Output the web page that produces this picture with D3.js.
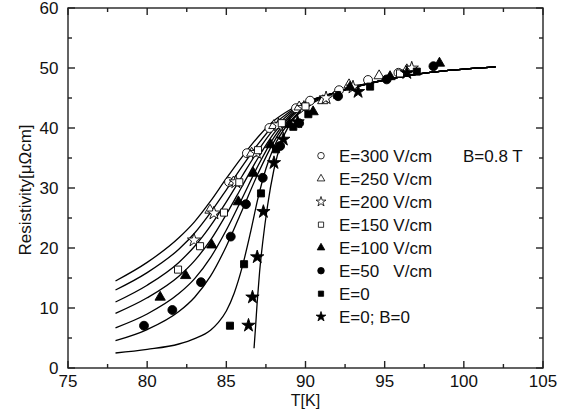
<!DOCTYPE html>
<html><head><meta charset="utf-8">
<script src="https://cdn.jsdelivr.net/npm/d3@7"></script>
<style>body{margin:0;background:#fff}svg{display:block}text{font-family:"Liberation Sans",Arial,sans-serif;fill:#111}</style>
</head><body><svg id="c" width="577" height="416"></svg>
<script>
// ---- data ----
const xTicks = [75, 80, 85, 90, 95, 100, 105];
const yTicks = [0, 10, 20, 30, 40, 50, 60];
const legendLabels = ["E=300 V/cm", "E=250 V/cm", "E=200 V/cm", "E=150 V/cm", "E=100 V/cm", "E=50   V/cm", "E=0", "E=0; B=0"];
const fieldNote = "B=0.8 T";
// fitted curves [T, R]
const fitE300 = [[78,14.5],[80,17.6],[82,21.7],[83,24.4],[84,27.8],[85,31.6],[86,35.2],[87,38.5],[88,41.2],[89,43.0],[90,44.3],[92,46.0],[95,48.0],[98,49.3],[102,50.2]];
const fitE250 = [[78,13.0],[80,15.9],[82,19.8],[83,22.5],[84,25.9],[85,29.7],[86,33.6],[87,37.3],[88,40.5],[89,42.7],[90,44.2],[92,46.0],[95,48.0],[98,49.3],[102,50.2]];
const fitE200 = [[78,11.0],[80,13.8],[82,17.6],[83,20.3],[84,23.7],[85,27.7],[86,32.0],[87,36.2],[88,39.8],[89,42.4],[90,44.1],[92,46.0],[95,48.0],[98,49.3],[102,50.2]];
const fitE150 = [[78,9.1],[80,11.7],[82,15.3],[83,17.9],[84,21.3],[85,25.6],[86,30.3],[87,35.0],[88,39.1],[89,42.1],[90,44.0],[92,46.0],[95,48.0],[98,49.3],[102,50.2]];
const fitE100 = [[78,6.7],[80,9.0],[82,12.4],[83,14.9],[84,18.4],[85,23.0],[86,28.3],[87,33.7],[88,38.4],[89,41.8],[90,43.9],[92,46.0],[95,48.0],[98,49.3],[102,50.2]];
const fitE50  = [[78,4.55],[80,6.4],[82,9.4],[83,11.8],[84,15.3],[85,20.3],[86,26.3],[87,32.4],[88,37.7],[89,41.5],[90,43.8],[92,46.0],[95,48.0],[98,49.3],[102,50.2]];
const fitE0   = [[78,2.5],[80,3.1],[82,4.0],[83,4.9],[84,6.3],[84.5,7.6],[85,9.5],[85.5,12.5],[86,16.8],[86.5,22.3],[87,28.3],[87.5,33.2],[88,36.8],[89,41.0],[90,43.6],[92,46.0],[95,48.0],[98,49.3],[102,50.2]];
const fitB0   = [[86.75,3.3],[86.85,7],[86.95,11],[87.1,16],[87.3,21],[87.6,27],[88,33],[88.5,37.8],[89,40.6],[90,43.3],[92,46.0],[95,48.0],[98,49.3],[102,50.2]];
// measured points [T, R]
const ptsE300 = [[85.17,31.0],[86.3,35.8],[87.72,40.0],[89.4,43.3],[90.29,44.55],[92.12,46.3],[93.95,48.0],[95.87,49.2]];
const ptsE250 = [[83.97,26.3],[85.45,31.0],[86.6,35.8],[88.0,40.4],[89.6,43.5],[91.09,44.55],[92.75,47.2],[94.65,48.7],[96.4,49.7]];
const ptsE200 = [[82.96,21.3],[84.22,25.8],[85.6,31.0],[86.9,35.9],[88.3,40.5],[89.9,43.4],[91.3,45.0],[93.0,46.8],[96.71,49.95]];
const ptsE150 = [[81.95,16.4],[83.34,20.3],[84.85,25.9],[85.82,30.95],[87.0,36.3],[88.5,40.8],[90.0,43.6],[92.0,45.5],[95.97,49.1]];
const ptsE100 = [[80.82,11.8],[82.43,15.4],[84.08,20.5],[85.76,27.7],[86.71,32.45],[87.8,37.2],[89.0,40.6],[90.48,42.7],[92.81,46.8],[95.34,48.55],[98.46,50.8]];
const ptsE50  = [[79.8,7.05],[81.59,9.67],[83.4,14.3],[85.28,21.9],[86.24,27.3],[87.3,31.7],[88.4,37.0],[89.6,40.8],[92.06,45.3],[95.13,48.1],[98.08,50.3]];
const ptsE0   = [[85.23,7.05],[86.12,17.3],[87.19,29.1],[88.14,36.45],[89.23,40.2],[90.18,42.3],[94.08,46.9],[97.03,49.4]];
const ptsB0   = [[86.4,7.1],[86.65,11.8],[86.95,18.5],[87.34,26.05],[88.01,34.2],[88.6,38.1],[89.5,41.0],[93.32,46.05],[96.4,49.2]];

const fits = [fitE300, fitE250, fitE200, fitE150, fitE100, fitE50, fitE0, fitB0];
const series = [ptsE300, ptsE250, ptsE200, ptsE150, ptsE100, ptsE50, ptsE0, ptsB0];
const symTypes = [d3.symbolCircle, d3.symbolTriangle, d3.symbolStar, d3.symbolSquare, d3.symbolTriangle, d3.symbolCircle, d3.symbolSquare, d3.symbolStar];
const symFill = ["#fff","#fff","#fff","#fff","#000","#000","#000","#000"];
const symSize = [62, 46, 55, 50, 46, 62, 50, 55];

// ---- chart ----
const svg = d3.select("#c");
const x = d3.scaleLinear().domain([75, 105]).range([68, 543]);
const y = d3.scaleLinear().domain([0, 60]).range([368, 8]);

const line = d3.line().x(d => x(d[0])).y(d => y(d[1])).curve(d3.curveMonotoneX);
const gl = svg.append("g");
fits.forEach(f => gl.append("path").attr("d", line(f)).attr("fill", "none").attr("stroke", "#000").attr("stroke-width", 1.3));

const gp = svg.append("g");
series.forEach((s, i) => {
  gp.selectAll(null).data(s).enter().append("path")
    .attr("d", d3.symbol().type(symTypes[i]).size(symSize[i]))
    .attr("transform", d => `translate(${x(d[0])},${y(d[1])})`)
    .attr("fill", symFill[i]).attr("stroke", "#000").attr("stroke-width", 0.9);
});

// axes (frame with inward ticks)
const ax = svg.append("g").attr("stroke", "#222").attr("stroke-width", 1.4);
ax.append("rect").attr("x", x(75)).attr("y", y(60)).attr("width", x(105) - x(75)).attr("height", y(0) - y(60)).attr("fill", "none");
const xMinor = d3.range(75, 105.01, 2.5), yMinor = d3.range(0, 60.01, 5);
xMinor.forEach(v => {
  const L = xTicks.includes(v) ? 7 : 4;
  ax.append("line").attr("x1", x(v)).attr("x2", x(v)).attr("y1", y(0)).attr("y2", y(0) - L);
  ax.append("line").attr("x1", x(v)).attr("x2", x(v)).attr("y1", y(60)).attr("y2", y(60) + L);
});
yMinor.forEach(v => {
  const L = yTicks.includes(v) ? 7 : 4;
  ax.append("line").attr("y1", y(v)).attr("y2", y(v)).attr("x1", x(75)).attr("x2", x(75) + L);
  ax.append("line").attr("y1", y(v)).attr("y2", y(v)).attr("x1", x(105)).attr("x2", x(105) - L);
});
svg.append("g").selectAll(null).data(xTicks).enter().append("text")
  .attr("x", d => x(d)).attr("y", 387).attr("text-anchor", "middle").attr("font-size", 17).text(d => d);
svg.append("g").selectAll(null).data(yTicks).enter().append("text")
  .attr("x", 58.5).attr("y", d => y(d) + 6).attr("text-anchor", "end").attr("font-size", 17).text(d => d);
svg.append("text").attr("x", x(90)).attr("y", 406).attr("text-anchor", "middle").attr("font-size", 16).text("T[K]");
svg.append("text").attr("transform", "translate(31,190) rotate(-90)").attr("text-anchor", "middle").attr("font-size", 17).text("Resistivity[μΩcm]");

// legend
const lg = svg.append("g");
legendLabels.forEach((t, i) => {
  const yy = 155.7 + i * 23;
  lg.append("path").attr("d", d3.symbol().type(symTypes[i]).size(symSize[i] * 0.55))
    .attr("transform", `translate(321,${yy})`).attr("fill", symFill[i]).attr("stroke", "#000").attr("stroke-width", 0.8);
  lg.append("text").attr("x", 339).attr("y", yy + 6).attr("font-size", 17).style("white-space", "pre").text(t);
});
lg.append("text").attr("x", 463).attr("y", 155.7 + 6).attr("font-size", 17).text(fieldNote);
</script></body></html>
